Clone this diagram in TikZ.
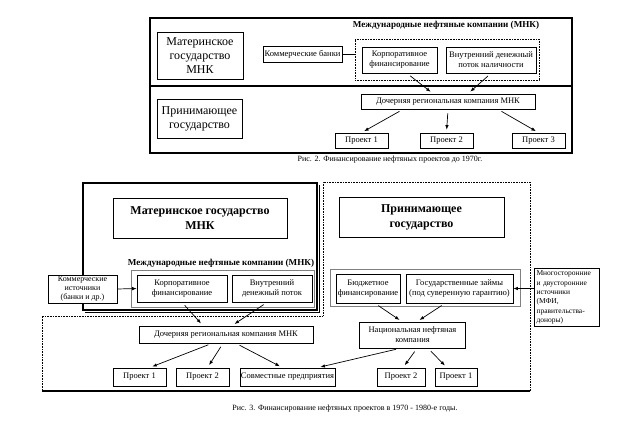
\documentclass[tikz,border=0pt]{standalone}
\usepackage{fontspec}
\setmainfont{Liberation Serif}
\usetikzlibrary{arrows.meta}

\begin{document}
\begin{tikzpicture}[x=1pt,y=-1pt,
    box/.style={draw,line width=0.7pt,inner sep=1pt,align=center,font=\fontsize{8.5}{10}\selectfont},
    bigbox/.style={draw,line width=0.7pt,inner sep=1pt,align=center,font=\fontsize{12}{14}\selectfont},
    arr/.style={-{Latex[length=4.5pt,width=3.5pt]},line width=0.7pt,shorten <=4pt,shorten >=3pt},
    arrto/.style={-{Latex[length=4.5pt,width=3.5pt]},line width=0.7pt},
    dots/.style={line width=1pt,dash pattern=on 0.8pt off 0.8pt},
    title/.style={font=\bfseries\fontsize{9.1}{11}\selectfont},
    caption/.style={font=\fontsize{8}{10}\selectfont}]
\useasboundingbox (0,0) rectangle (624,439);

% Fig. 2
\begin{scope}
    \draw [line width=1.6pt] (150,18) rectangle (572,153);
    \draw [line width=1.2pt] (150,86) -- (572,86);
    \node [bigbox, minimum width=86pt, minimum height=47pt] (m) at (200,55.5) {Материнское\\государство\\МНК};
    \node [bigbox, minimum width=85pt, minimum height=39pt] (h) at (199.5,118.5) {Принимающее\\государство};
    \node [title] (t) at (446,25) {Международные нефтяные компании (МНК)};
    \node [box, minimum width=79pt, minimum height=16pt] (b) at (302.5,54) {Коммерческие банки};
    \node [draw, dots, minimum width=184pt, minimum height=41pt] (f) at (447,59.5) {};
    \node [box, minimum width=75pt, minimum height=26pt] (k) at (399.5,60) {Корпоративное\\финансирование};
    \node [box, minimum width=90pt, minimum height=26pt] (v) at (491,60) {Внутренний денежный\\поток наличности};
    \node [box, minimum width=174pt, minimum height=15pt] (d) at (448,101.5) {Дочерняя региональная компания МНК};
    \node [box, minimum width=53pt, minimum height=15pt] (p1) at (361.5,140.5) {Проект 1};
    \node [box, minimum width=53pt, minimum height=15pt] (p2) at (446.5,140.5) {Проект 2};
    \node [box, minimum width=53pt, minimum height=15pt] (p3) at (538.5,140.5) {Проект 3};
    \path [line width=0.7pt] (b.east) edge (b.east -| f.west);
    \path [arr] ([xshift=7.5pt]k.south) edge ([xshift=-15pt]d.north);
    \path [arr] (v.south) edge ([xshift=20pt]d.north);
    \path [arr] ([xshift=-45pt]d.south) edge (p1.north);
    \path [arr] (d.south) edge (p2.north);
    \path [arr] ([xshift=50pt]d.south) edge (p3.north);
    \node [caption] (c) at (390,160) {Рис. 2. Финансирование нефтяных проектов до 1970г.};
\end{scope}

% Fig. 3
\begin{scope}
    \draw [line width=1.6pt] (83,183) rectangle (317,310);
    \draw [line width=1pt] (85,312.5) -- (319.5,312.5) -- (319.5,185);
    \draw [dots] (530,391) -- (530,182) -- (323,182) -- (323,316) -- (42,316) -- (42,391);
    \draw [line width=1.6pt] (42,391) -- (530,391);

    \node [bigbox, font=\bfseries\fontsize{12}{15}\selectfont, minimum width=174pt, minimum height=40pt] (M) at (200,218) {Материнское государство\\МНК};
    \node [title] (T) at (221,263) {Международные нефтяные компании (МНК)};
    \node [draw=gray, line width=1pt, minimum width=183pt, minimum height=37pt] (I) at (222.5,288.5) {};
    \node [box, minimum width=90pt, minimum height=27pt] (K) at (182,288.5) {Корпоративное\\финансирование};
    \node [box, minimum width=80pt, minimum height=27pt] (V) at (272,288.5) {Внутренний\\денежный поток};
    \node [box, fill=white, minimum width=69pt, minimum height=28pt, font=\fontsize{8}{9.2}\selectfont] (C) at (82.5,289) {Коммерческие\\источники\\(банки и др.)};

    \node [bigbox, font=\bfseries\fontsize{12}{15}\selectfont, minimum width=165pt, minimum height=40pt] (H) at (421.5,217) {Принимающее\\государство};
    \node [draw=gray, line width=1pt, minimum width=190pt, minimum height=37pt] (J) at (425,287.5) {};
    \node [box, minimum width=64pt, minimum height=29pt] (B) at (368,288.5) {Бюджетное\\финансирование};
    \node [box, minimum width=107pt, minimum height=29pt] (G) at (459.5,288.5) {Государственные займы\\(под суверенную гарантию)};
    \node [box, fill=white, align=left, text width=60pt, inner sep=2.5pt, minimum height=57pt, font=\fontsize{7.5}{9.4}\selectfont] (R) at (566.5,297.5) {Многосторонние\\и двусторонние\\источники\\(МФИ,\\правительства-\\доноры)};
    \node [box, minimum width=106pt, minimum height=26pt] (N) at (412.5,335) {Национальная нефтяная\\компания};

    \node [box, minimum width=174pt, minimum height=17pt] (D) at (226,334.5) {Дочерняя региональная компания МНК};
    \node [box, minimum width=53pt, minimum height=18pt] (P1) at (139.5,377) {Проект 1};
    \node [box, minimum width=53pt, minimum height=18pt] (P2) at (202.5,377) {Проект 2};
    \node [box, minimum width=95pt, minimum height=18pt] (S) at (287.5,377) {Совместные предприятия};
    \node [box, minimum width=48pt, minimum height=18pt] (Q2) at (401,377) {Проект 2};
    \node [box, minimum width=42pt, minimum height=18pt] (Q1) at (456,377) {Проект 1};

    \path [arrto] (C.east) edge (K.west);
    \path [arrto] (R.west |- G.east) edge (G.east);
    \path [arr] (K.south) edge ([xshift=-23pt]D.north);
    \path [arr] ([xshift=-5pt]V.south) edge ([xshift=6pt]D.north);
    \path [arr] ([xshift=7pt]B.south) edge ([xshift=-10.5pt]N.north);
    \path [arr] ([xshift=-14.5pt]G.south) edge ([xshift=4.5pt]N.north);
    \path [arr] ([xshift=-14pt]D.south) edge ([xshift=10pt]P1.north);
    \path [arr] ([xshift=-3pt]D.south) edge ([xshift=5pt]P2.north);
    \path [arr] ([xshift=10pt]D.south) edge ([xshift=-5pt]S.north);
    \path [arr] ([xshift=-12.5pt]N.south) edge ([xshift=30pt]S.north);
    \path [arr] ([xshift=4.5pt]N.south) edge ([xshift=2pt]Q2.north);
    \path [arr] ([xshift=15.5pt]N.south) edge ([xshift=-9pt]Q1.north);
    \node [caption] (c3) at (345,409) {Рис. 3. Финансирование нефтяных проектов в 1970 - 1980-е годы.};
\end{scope}
\end{tikzpicture}
\end{document}
